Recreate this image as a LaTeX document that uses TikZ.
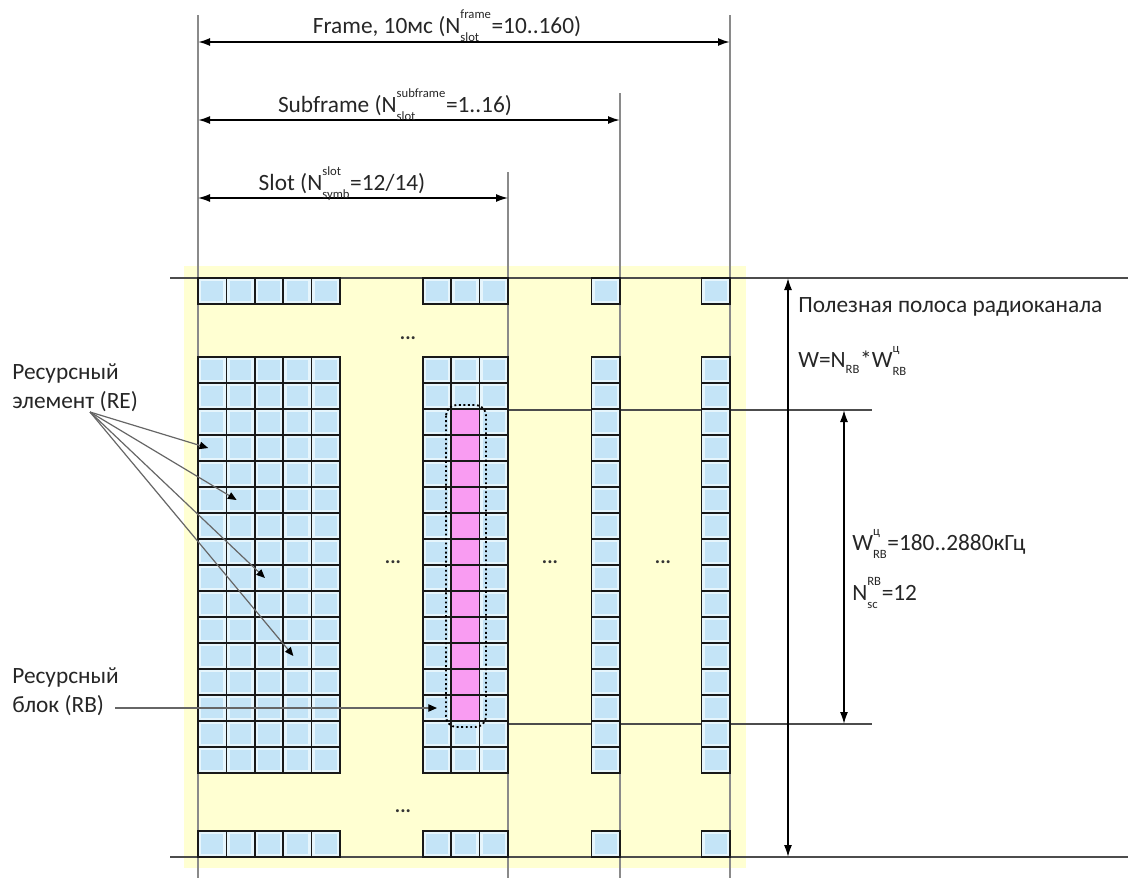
\documentclass[tikz,border=0pt]{standalone}
\usepackage{fontspec}
\setmainfont{Carlito}
\usepackage{amsmath}
\usepackage{tikz}
\usetikzlibrary{arrows.meta,calc}
\definecolor{bgyel}{HTML}{FFFFD2}
\definecolor{cellrim}{HTML}{E6F5FC}
\definecolor{cellcore}{HTML}{C4E4F7}
\definecolor{rbpink}{HTML}{F99CF2}
\definecolor{guidegray}{HTML}{8A8A8A}
\newcommand{\supx}[1]{\raisebox{.55ex}{\fontsize{9.5}{9.5}\selectfont #1}}
\newcommand{\subx}[1]{\raisebox{-.25ex}{\fontsize{9.5}{9.5}\selectfont #1}}

\tikzset{
  recell/.style={draw=black!90,line width=1.3pt,fill=cellrim,minimum width=21.3pt,minimum height=19.5pt,inner sep=0pt,
    path picture={\fill[cellcore] ([shift={(2.6pt,2.6pt)}]path picture bounding box.south west)
      rectangle ([shift={(-2.6pt,-2.6pt)}]path picture bounding box.north east);}},
  rbcell/.style={draw=black!90,line width=1.3pt,fill=rbpink,minimum width=21.3pt,minimum height=19.5pt,inner sep=0pt},
  gridguide/.style={draw=guidegray,line width=0.9pt},
  bandline/.style={draw=black!70,line width=1pt},
  dimarrow/.style={{Latex[length=9pt,width=6pt]}-{Latex[length=9pt,width=6pt]},line width=1.4pt},
  callout/.style={draw=black!60,line width=0.9pt,-{Triangle[length=6.5pt,width=5.5pt,color=black]}},
  lbl/.style={font=\fontsize{17.5}{21.75}\selectfont,text=black!85,inner sep=0pt},
  skipdots/.style={font=\bfseries\fontsize{15}{15}\selectfont,text=black!80,inner sep=0pt},
}

\begin{document}
\begin{tikzpicture}[x=0.75pt,y=-0.75pt]
  \useasboundingbox (0,0) rectangle (1128,878);
  \fill[bgyel] (184,266) rectangle (746,868);
  % time guides and band edges
  \draw[gridguide] (198,15) -- (198,878);
  \draw[gridguide] (508,172) -- (508,878);
  \draw[gridguide] (620,93) -- (620,878);
  \draw[gridguide] (730,15) -- (730,878);
  \draw[bandline] (170,278) -- (1128,278);
  \draw[bandline] (170,857) -- (1128,857);
  \draw[bandline] (484,410) -- (872,410);
  \draw[bandline] (484,724) -- (872,724);
  % resource elements
  \foreach \g/\gx/\gn in {L/198/5,M/422.8/3,S/591.6/1,F/701.6/1}{
    \foreach \c in {1,...,\gn}{
      \node[recell] (\g-top-\c) at (\gx+\c*28.4-14.2,291) {};
      \node[recell] (\g-bot-\c) at (\gx+\c*28.4-14.2,844) {};
      \foreach \r in {1,...,16}
        \node[recell] (\g-\r-\c) at (\gx+\c*28.4-14.2,344+\r*26) {};
    }
  }
  \foreach \r in {3,...,14} \node[rbcell] (rb-\r) at (M-\r-2) {};
  \draw[dotted,line width=1.4pt,rounded corners=8pt] (446,405) rectangle (486,727);
  \node[skipdots] (dotsTop) at (408,338) {...};
  \node[skipdots] (dotsA) at (393,562) {...};
  \node[skipdots] (dotsB) at (550,562) {...};
  \node[skipdots] (dotsC) at (663,562) {...};
  \node[skipdots] (dotsBot) at (403,811) {...};
  % durations
  \coordinate (frameL) at (198,42); \coordinate (frameR) at (730,42);
  \coordinate (subL) at (198,120); \coordinate (subR) at (620,120);
  \coordinate (slotL) at (198,198); \coordinate (slotR) at (508,198);
  \draw[dimarrow] (frameL) -- (frameR);
  \draw[dimarrow] (subL) -- (subR);
  \draw[dimarrow,line width=1pt] (slotL) -- (slotR);
  \node[lbl,anchor=base] (frameLbl) at (447,33) {Frame, 10мс (N$^{\supx{frame}}_{\subx{slot}}$=10..160)};
  \node[lbl,anchor=base] (subLbl) at (395,112) {Subframe (N$^{\supx{subframe}}_{\subx{slot}}$=1..16)};
  \node[lbl,anchor=base] (slotLbl) at (342,190) {Slot (N$^{\supx{slot}}_{\subx{symb}}$=12/14)};
  % bandwidths
  \coordinate (bwTop) at (788,278); \coordinate (bwBot) at (788,857);
  \coordinate (rbTop) at (844,410); \coordinate (rbBot) at (844,724);
  \draw[dimarrow,line width=1.2pt] (bwTop) -- (bwBot);
  \draw[dimarrow,line width=1.2pt] (rbTop) -- (rbBot);
  \node[lbl,anchor=base west] (bwLbl) at (798,312) {Полезная полоса радиоканала};
  \node[lbl,anchor=base west] (bwEq) at (798,367) {W=N$_{\subx{RB}}$*W$^{\supx{ц}}_{\subx{RB}}$};
  \node[lbl,anchor=base west] (rbwLbl) at (852,550) {W$^{\supx{ц}}_{\subx{RB}}$=180..2880кГц};
  \node[lbl,anchor=base west] (rbnLbl) at (852,600) {N$^{\supx{RB}}_{\subx{sc}}$=12};
  % callouts
  \node[lbl,anchor=west,align=left] (reLbl) at (12,388) {Ресурсный\\элемент (RE)};
  \node[lbl,anchor=west,align=left] (rbLbl) at (12,692) {Ресурсный\\блок (RB)};
  \coordinate (reFrom) at (90,412);
  \foreach \t in {L-4-1,L-6-2,L-9-3,L-12-4} \draw[callout] (reFrom) -- ([xshift=-3pt]\t.center);
  \coordinate (rbFrom) at (115,708);
  \draw[callout] (rbFrom) -- (rbFrom -| M-14-1.center);
\end{tikzpicture}
\end{document}
